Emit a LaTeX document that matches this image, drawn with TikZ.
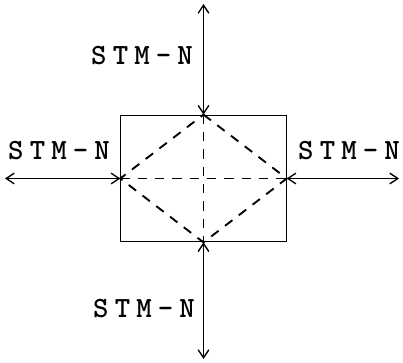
\documentclass[tikz,border=0pt]{standalone}
\usepackage{tikz}
\usetikzlibrary{arrows.meta, positioning}
\newcommand{\lk}{\kern4.6pt}

\begin{document}
\begin{tikzpicture}[
  x=0.75pt, y=-0.75pt,
  lbl/.style={font=\fontsize{22}{24}\selectfont\ttfamily\bfseries, inner sep=0pt},
  arr/.style={{Straight Barb[length=6pt,width=8pt]}-{Straight Barb[length=6pt,width=8pt]}, line width=1pt},
  dsh/.style={dash pattern=on 7pt off 6pt, line width=1.4pt}
]
  \useasboundingbox (0,0) rectangle (403,363);
  \node[draw, line width=0.8pt, minimum width=124pt, minimum height=95pt, inner sep=0pt] (box) at (203.5,178.5) {};
  \coordinate (up) at (box.north |- 0,4);
  \coordinate (down) at (box.south |- 0,359);
  \coordinate (lft) at (box.west -| 5,0);
  \coordinate (rgt) at (box.east -| 399,0);
  % outer links
  \draw[arr] (up) -- (box.north);
  \draw[arr] (down) -- (box.south);
  \draw[arr] (lft) -- (box.west);
  \draw[arr] (rgt) -- (box.east);
  % diamond and cross
  \draw[dsh] (box.north) -- (box.east) -- (box.south) -- (box.west) -- cycle;
  \draw[dsh] (box.north) -- (box.south);
  \draw[dsh] (box.west) -- (box.east);
  \node[lbl] (ltop) at (142,56) {S\lk T\lk M\lk -\lk N};
  \node[lbl] (llft) at (59,151) {S\lk T\lk M\lk -\lk N};
  \node[lbl] (lrgt) at (349,151) {S\lk T\lk M\lk -\lk N};
  \node[lbl] (lbot) at (144,309) {S\lk T\lk M\lk -\lk N};
\end{tikzpicture}
\end{document}
